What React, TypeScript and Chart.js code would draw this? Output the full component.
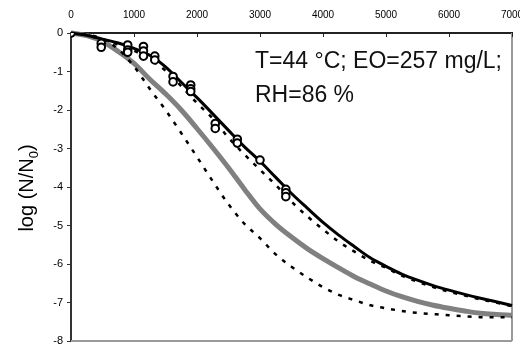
import React, { useEffect, useRef } from "react";
import { Chart, registerables } from "chart.js";

Chart.register(...registerables);

// Time grid for the model curves (s)
const curveTimes = [0, 250, 500, 750, 1000, 1250, 1500, 1750, 2000, 2250, 2500, 2750, 3000, 3250, 3500, 3750, 4000, 4250, 4500, 4750, 5000, 5250, 5500, 5750, 6000, 6250, 6500, 6750, 7000, 7125];

// Black solid fit
const fitBlack = [0, -0.06, -0.16, -0.26, -0.4, -0.58, -0.88, -1.28, -1.68, -2.1, -2.53, -2.95, -3.33, -3.75, -4.17, -4.55, -4.92, -5.25, -5.55, -5.84, -6.06, -6.26, -6.42, -6.56, -6.68, -6.79, -6.89, -6.98, -7.08, -7.13];

// Dotted curve close to the black fit
const dottedNear = [0, -0.06, -0.17, -0.3, -0.46, -0.68, -0.98, -1.38, -1.82, -2.22, -2.72, -3.15, -3.55, -3.95, -4.38, -4.76, -5.1, -5.42, -5.68, -5.92, -6.1, -6.3, -6.46, -6.6, -6.72, -6.82, -6.92, -7.0, -7.1, -7.14];

// Grey thick curve
const greyCurve = [0, -0.07, -0.22, -0.48, -0.79, -1.2, -1.58, -2.0, -2.48, -2.98, -3.5, -4.05, -4.57, -4.97, -5.3, -5.6, -5.86, -6.1, -6.33, -6.52, -6.7, -6.85, -6.97, -7.07, -7.15, -7.22, -7.28, -7.31, -7.33, -7.34];

// Dotted steep curve
const dottedFar = [0, -0.04, -0.15, -0.42, -0.87, -1.45, -2.0, -2.6, -3.22, -3.85, -4.45, -4.95, -5.33, -5.75, -6.07, -6.35, -6.6, -6.8, -6.94, -7.07, -7.15, -7.22, -7.27, -7.3, -7.33, -7.36, -7.38, -7.38, -7.38, -7.38];

// Measured data (open circles)
const obsTimes = [0, 480, 480, 900, 900, 900, 1150, 1150, 1150, 1330, 1330, 1620, 1620, 1900, 1900, 1900, 2290, 2290, 2640, 2640, 3000, 3410, 3410, 3410];
const obsLogN = [0, -0.27, -0.37, -0.31, -0.44, -0.5, -0.35, -0.47, -0.6, -0.6, -0.7, -1.13, -1.27, -1.35, -1.45, -1.52, -2.35, -2.48, -2.76, -2.86, -3.3, -4.06, -4.15, -4.25];

const xTicks = [0, 1000, 2000, 3000, 4000, 5000, 6000, 7000];
const yTicks = [0, -1, -2, -3, -4, -5, -6, -7, -8];

const annotationLines = ["T=44 °C; EO=257 mg/L;", "RH=86 %"];

const FONT = '"Liberation Sans", Arial, sans-serif';

const pts = (xs: number[], ys: number[]) => xs.map((x, i) => ({ x, y: ys[i] }));

const decorPlugin = {
  id: "decor",
  beforeDatasetsDraw(chart: any) {
    const { ctx, chartArea } = chart;
    ctx.save();
    ctx.strokeStyle = "#9a9a9a";
    ctx.lineWidth = 2;
    ctx.beginPath();
    ctx.moveTo(chartArea.left, chartArea.bottom);
    ctx.lineTo(chartArea.right, chartArea.bottom);
    ctx.moveTo(chartArea.right, chartArea.top);
    ctx.lineTo(chartArea.right, chartArea.bottom);
    ctx.stroke();
    // inward ticks on top axis
    const xs = chart.scales.x;
    ctx.strokeStyle = "#222";
    ctx.lineWidth = 1;
    ctx.beginPath();
    xTicks.forEach((v) => {
      const px = Math.round(xs.getPixelForValue(v)) + 0.5;
      ctx.moveTo(px, chartArea.top);
      ctx.lineTo(px, chartArea.top + 4);
    });
    ctx.stroke();
    ctx.restore();
  },
  afterDraw(chart: any) {
    const { ctx } = chart;
    ctx.save();
    // annotation
    ctx.fillStyle = "#111";
    ctx.font = `23px ${FONT}`;
    ctx.textAlign = "left";
    ctx.textBaseline = "alphabetic";
    ctx.fillText(annotationLines[0], 255, 68);
    ctx.fillText(annotationLines[1], 255, 101.5);
    // y axis title with subscript
    ctx.translate(33, 188);
    ctx.rotate(-Math.PI / 2);
    const mainFont = `20px ${FONT}`;
    const subFont = `13px ${FONT}`;
    const a = "log (N/N";
    const b = "0";
    const c = ")";
    ctx.font = mainFont;
    const wa = ctx.measureText(a).width;
    const wc = ctx.measureText(c).width;
    ctx.font = subFont;
    const wb = ctx.measureText(b).width;
    let x0 = -(wa + wb + wc) / 2;
    ctx.fillStyle = "#000";
    ctx.font = mainFont;
    ctx.fillText(a, x0, 0);
    ctx.font = subFont;
    ctx.fillText(b, x0 + wa, 5);
    ctx.font = mainFont;
    ctx.fillText(c, x0 + wa + wb, 0);
    ctx.restore();
  },
};

export default function App() {
  const ref = useRef<HTMLCanvasElement>(null);
  useEffect(() => {
    if (!ref.current) return;
    const chart = new Chart(ref.current, {
      type: "scatter",
      data: {
        datasets: [
          {
            label: "data",
            data: pts(obsTimes, obsLogN),
            showLine: false,
            pointStyle: "circle",
            pointRadius: 3.8,
            pointBorderWidth: 2,
            pointBackgroundColor: "#fff",
            pointBorderColor: "#000",
          },
          {
            label: "fit",
            data: pts(curveTimes, fitBlack),
            showLine: true,
            borderColor: "#000",
            borderWidth: 3,
            pointRadius: 0,
            cubicInterpolationMode: "monotone",
            clip: false,
          },
          {
            label: "dotted near",
            data: pts(curveTimes, dottedNear),
            showLine: true,
            borderColor: "#000",
            borderWidth: 2.5,
            borderDash: [4, 7],
            pointRadius: 0,
            cubicInterpolationMode: "monotone",
            clip: false,
          },
          {
            label: "dotted far",
            data: pts(curveTimes, dottedFar),
            showLine: true,
            borderColor: "#000",
            borderWidth: 2.5,
            borderDash: [4, 7],
            pointRadius: 0,
            cubicInterpolationMode: "monotone",
            clip: false,
          },
          {
            label: "grey",
            data: pts(curveTimes, greyCurve),
            showLine: true,
            borderColor: "#808080",
            borderWidth: 5,
            pointRadius: 0,
            cubicInterpolationMode: "monotone",
            clip: false,
          },
        ],
      } as any,
      options: {
        responsive: false,
        animation: false,
        devicePixelRatio: 1,
        layout: { padding: { left: 0, right: 8, top: 0, bottom: 14 } },
        plugins: { legend: { display: false }, tooltip: { enabled: false } },
        scales: {
          x: {
            type: "linear",
            position: "top",
            min: 0,
            max: 7000,
            afterFit: (s: any) => {
              s.height = 33;
              s.paddingLeft = 0;
              s.paddingRight = 0;
            },
            afterBuildTicks: (s: any) => { s.ticks = xTicks.map((v) => ({ value: v })); },
            ticks: {
              color: "#000",
              font: { size: 10, family: FONT },
              padding: 12,
              maxRotation: 0,
              callback: (v: any) => String(v),
            },
            grid: { drawOnChartArea: false, drawTicks: false },
            border: { color: "#222", width: 2 },
          },
          y: {
            type: "linear",
            min: -8,
            max: 0,
            afterFit: (s: any) => {
              s.width = 71;
              s.paddingTop = 0;
              s.paddingBottom = 0;
            },
            afterBuildTicks: (s: any) => { s.ticks = yTicks.map((v) => ({ value: v })); },
            ticks: {
              color: "#000",
              font: { size: 11, family: FONT },
              padding: 4,
              callback: (v: any) => String(v),
            },
            grid: { drawOnChartArea: false, color: "#333", tickLength: 4 },
            border: { color: "#333", width: 2 },
          },
        },
      } as any,
      plugins: [decorPlugin],
    });
    return () => chart.destroy();
  }, []);
  return (
    <div style={{ position: "absolute", left: 0, top: 0, width: 520, height: 355, background: "#fff" }}>
      <canvas ref={ref} width={520} height={355} />
    </div>
  );
}
